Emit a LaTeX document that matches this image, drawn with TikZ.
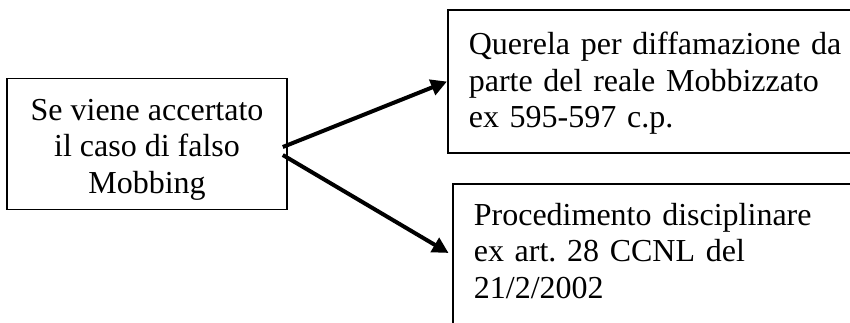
\documentclass[tikz,border=0pt]{standalone}
\usepackage{fontspec}
\setmainfont{Liberation Serif}
\usetikzlibrary{arrows.meta}
\begin{document}
\begin{tikzpicture}[x=0.375pt,y=-0.375pt,
  every node/.style={draw,line width=0.6pt,align=left,
  font=\fontsize{12}{13.8}\selectfont\frenchspacing}]
\useasboundingbox (0,0) rectangle (850,322);
\clip (0,0) rectangle (850,322);
\node[align=center,minimum width=105pt,minimum height=48.75pt,
  text height=39.8pt] (falso) at (147,144)
  {Se viene accertato\\ il caso di falso\\ Mobbing};
\node[anchor=west,text width=146.6pt,inner xsep=7.9pt,
  minimum height=53.6pt,text height=9.7pt] (querela) at (447,81.5)
  {Querela per diffamazione da\\
   parte del reale Mobbizzato\\
   ex 595-597 c.p.};
\node[anchor=west,text width=144.7pt,inner xsep=7.9pt,
  minimum height=53.25pt,text depth=30.8pt] (proc) at (452,255)
  {Procedimento disciplinare\\
   ex art. 28 CCNL del\\
   21/2/2002};
\draw[-{Triangle[length=6pt,width=6pt]},line width=1.5pt]
  ([shift={(-5,3)}]falso.east) -- (querela.west);
\draw[-{Triangle[length=6pt,width=6pt]},line width=1.5pt,shorten >=1.5pt]
  ([shift={(-5,11)}]falso.east) -- (proc.west);
\end{tikzpicture}
\end{document}
